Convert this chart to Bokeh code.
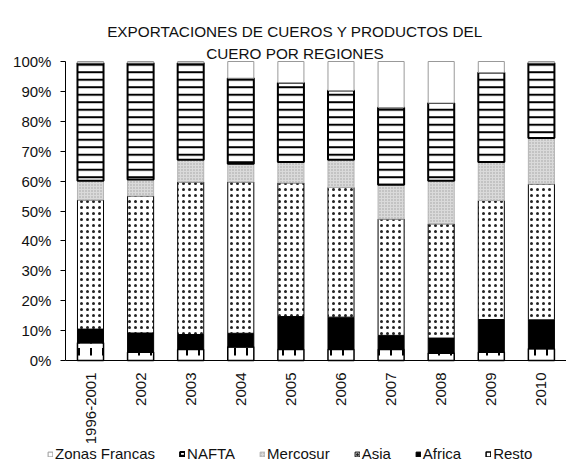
from bokeh.plotting import figure
from bokeh.models import (Range1d, FixedTicker, PrintfTickFormatter, Legend,
                          LegendItem, Label, ColumnDataSource)
from bokeh.transform import stack
from bokeh.embed import file_html
from bokeh.resources import INLINE
from math import pi

years = ["1996-2001", "2002", "2003", "2004", "2005", "2006", "2007", "2008", "2009", "2010"]
resto = [5.9, 2.8, 3.7, 4.5, 3.7, 3.7, 3.7, 2.4, 2.8, 3.9]
africa = [4.6, 6.4, 5.0, 4.6, 11.0, 10.8, 4.7, 5.1, 10.9, 9.7]
asia = [43.2, 45.8, 51.0, 50.6, 44.7, 43.4, 38.9, 38.2, 39.8, 45.4]
mercosur = [6.4, 5.5, 7.4, 6.1, 7.0, 9.2, 11.5, 14.4, 12.9, 15.4]
nafta = [39.4, 39.0, 32.4, 28.6, 26.5, 23.2, 25.8, 26.0, 29.9, 25.1]
zonas = [0.5, 0.5, 0.5, 5.6, 7.1, 9.7, 15.4, 13.9, 3.7, 0.5]

series = ["Resto", "Africa", "Asia", "Mercosur", "NAFTA", "Zonas Francas"]
legend_order = ["Zonas Francas", "NAFTA", "Mercosur", "Asia", "Africa", "Resto"]
y_ticks = [0, 10, 20, 30, 40, 50, 60, 70, 80, 90, 100]
title_lines = ["EXPORTACIONES DE CUEROS Y PRODUCTOS DEL", "CUERO POR REGIONES"]

FONT = "Liberation Sans"
FS = "15px"
TXT = "#111111"

styles = {
    "Resto": dict(fill_color="white", line_color="black", line_width=1.5, hatch_pattern=":",
                  hatch_color="black", hatch_scale=12, hatch_weight=2),
    "Africa": dict(fill_color="black", line_color="black", line_width=1),
    "Asia": dict(fill_color="white", line_color="black", line_width=1, hatch_pattern=".",
                 hatch_color="#222222", hatch_scale=6, hatch_weight=1.3),
    "Mercosur": dict(fill_color="#dadada", line_color="#b4b4b4", line_width=1, hatch_pattern=".",
                     hatch_color="#a0a0a0", hatch_scale=3, hatch_weight=0.6),
    "NAFTA": dict(fill_color="white", line_color="black", line_width=2, hatch_pattern="-",
                  hatch_color="black", hatch_scale=7.5, hatch_weight=2),
    "Zonas Francas": dict(fill_color="white", line_color="#999999", line_width=1),
}

pos = list(range(len(years)))
src = ColumnDataSource(dict(x=pos, Resto=resto, Africa=africa, Asia=asia,
                            Mercosur=mercosur, NAFTA=nafta, **{"Zonas Francas": zonas}))

# The frame covers the whole canvas. Category slots are 50.1px wide (first centred at 90px);
# 0% sits at 360px and 100% at 61px from the top.
W, H = 566, 464
SLOT = 50.1
X0_PX = 90
TOP_PX, ZERO_PX = 61, 360
PX_PER_PCT = (ZERO_PX - TOP_PX) / 100


def px_to_x(px):
    return (px - X0_PX) / SLOT


def px_to_y(py):
    return (ZERO_PX - py) / PX_PER_PCT


p = figure(width=W, height=H, x_range=Range1d(px_to_x(0), px_to_x(W)),
           y_range=Range1d(px_to_y(H), px_to_y(0)),
           output_backend="svg", toolbar_location=None,
           min_border_left=0, min_border_right=0, min_border_top=0, min_border_bottom=0)
p.title = None

renderers = {}
cum = []
for s in series:
    base = list(cum)
    cum = cum + [s]
    renderers[s] = p.vbar(x="x", bottom=stack(*base), top=stack(*cum), width=0.52,
                          source=src, **styles[s])

# two-line title (baselines at 31px and 53px, centred at 294.5px)
for line, base_px in zip(title_lines, [31, 53]):
    p.add_layout(Label(x=px_to_x(294.5), y=px_to_y(base_px), text=line,
                       text_align="center", text_baseline="alphabetic",
                       text_font=FONT, text_font_size="15.3px", text_color=TXT))

p.xgrid.grid_line_color = None
p.ygrid.grid_line_color = None
p.outline_line_color = None

p.yaxis.fixed_location = -0.5
p.yaxis.bounds = (0, 100)
p.yaxis.ticker = FixedTicker(ticks=y_ticks)
p.yaxis.formatter = PrintfTickFormatter(format="%d%%")
p.yaxis.major_tick_out = 5
p.yaxis.major_tick_in = 0
p.yaxis.minor_tick_line_color = None
p.yaxis.major_label_standoff = 9
p.yaxis.axis_line_color = "black"
p.yaxis.major_tick_line_color = "black"

p.xaxis.fixed_location = 0
p.xaxis.bounds = (-0.5, len(years) - 0.5 + 0.6)
p.xaxis.ticker = FixedTicker(ticks=pos)
p.xaxis.major_label_overrides = {i: y for i, y in zip(pos, years)}
p.xaxis.major_label_orientation = pi / 2
p.xaxis.major_tick_line_color = None
p.xaxis.minor_tick_line_color = None
p.xaxis.major_tick_out = 0
p.xaxis.major_label_standoff = 12
p.xaxis.axis_line_color = "black"

for ax in (p.xaxis, p.yaxis):
    ax.major_label_text_font = FONT
    ax.major_label_text_font_size = FS
    ax.major_label_text_color = TXT

legend = Legend(items=[LegendItem(label=s, renderers=[renderers[s]]) for s in legend_order],
                orientation="horizontal", location=(47, 2),
                glyph_width=6, glyph_height=6, label_standoff=2, spacing=24,
                padding=0, margin=0, border_line_color=None, background_fill_alpha=0,
                label_text_font=FONT, label_text_font_size=FS,
                label_text_color=TXT, label_height=14)
p.add_layout(legend, "center")

open("out.html", "w").write(file_html(p, INLINE))
